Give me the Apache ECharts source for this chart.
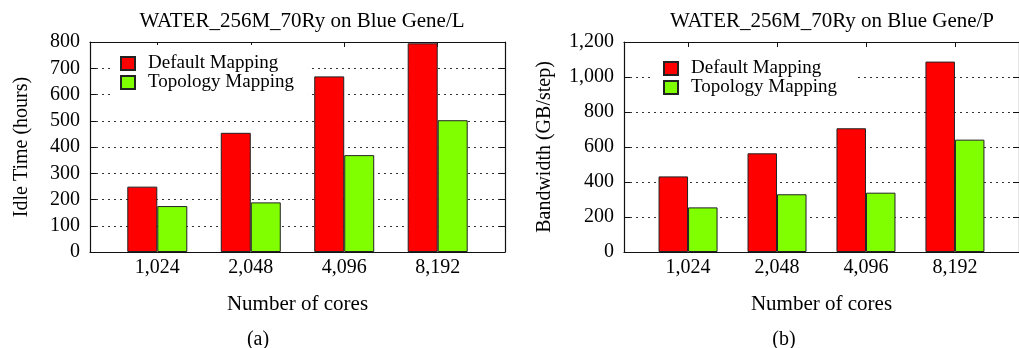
<!DOCTYPE html>
<html>
<head>
<meta charset="utf-8">
<script src="https://cdn.jsdelivr.net/npm/echarts@6/dist/echarts.min.js"></script>
<style>
html,body{margin:0;padding:0;background:#fff;}
#c{width:1019px;height:348px;}
</style>
</head>
<body>
<div id="c"></div>
<script>
// ---- data ----
const categories = ['1,024', '2,048', '4,096', '8,192'];
const seriesNames = ['Default Mapping', 'Topology Mapping'];
// (a) Idle time on Blue Gene/L (hours)
const idleDefault = [249, 454, 669, 795];
const idleTopology = [175, 189, 369, 502];
// (b) Bandwidth on Blue Gene/P (GB/step)
const bwDefault = [432, 564, 707, 1088];
const bwTopology = [255, 330, 339, 642];
const idleTicks = [0, 800, 100];   // min, max, step
const bwTicks = [0, 1200, 200];

const FONT = 'Liberation Serif';
const RED = '#ff0000';
const GREEN = '#7fff00';
const catIdx = categories.map((c, i) => i);
const toPairs = vals => vals.map((v, i) => [i, v]);
const AXLINE = { show: true, onZero: false, lineStyle: { color: '#111', width: 1.2 } };

function xAxes(grid) {
  return [
    { type: 'value', gridIndex: grid, position: 'bottom', min: -0.72, max: 3.72,
      axisLine: AXLINE,
      axisTick: { show: false },
      splitLine: { show: false },
      axisLabel: { customValues: catIdx, formatter: v => categories[Math.round(v)],
        fontFamily: FONT, fontSize: 20, color: '#000', margin: 6 },
      name: 'Number of cores', nameLocation: 'middle', nameGap: 42,
      nameTextStyle: { fontFamily: FONT, fontSize: 21, color: '#000' } },
    { type: 'value', gridIndex: grid, position: 'top', min: -0.72, max: 3.72,
      axisLine: AXLINE,
      axisTick: { show: true, inside: true, length: 5, customValues: catIdx, lineStyle: { color: '#111' } },
      axisLabel: { show: false }, splitLine: { show: false } }
  ];
}

function yAxes(grid, t, name, gap, fmt) {
  return [
    { type: 'value', gridIndex: grid, position: 'left', min: t[0], max: t[1], interval: t[2],
      axisLine: AXLINE,
      axisTick: { show: true, inside: true, length: 6, lineStyle: { color: '#111' } },
      splitLine: { show: true, lineStyle: { color: '#333', type: [2, 4], width: 1 } },
      axisLabel: { fontFamily: FONT, fontSize: 20, color: '#000', margin: 10, formatter: fmt },
      name: name, nameLocation: 'middle', nameGap: gap, nameRotate: 90,
      nameTextStyle: { fontFamily: FONT, fontSize: 20, color: '#000' } },
    { type: 'value', gridIndex: grid, position: 'right', min: t[0], max: t[1], interval: t[2],
      axisLine: AXLINE,
      axisTick: { show: true, inside: true, length: 6, lineStyle: { color: '#111' } },
      splitLine: { show: false }, axisLabel: { show: false } }
  ];
}

function bars(name, data, color, xi, yi, w) {
  return { type: 'bar', name: name, data: toPairs(data), xAxisIndex: xi, yAxisIndex: yi,
    barWidth: w, barGap: '0%',
    itemStyle: { color: color, borderColor: '#222', borderWidth: 1 } };
}

function legend(left, top, pt, pr) {
  return { show: true, orient: 'vertical', left: left, top: top,
    data: seriesNames, backgroundColor: '#fff', borderWidth: 0,
    padding: [pt, pr, 4, 10], itemWidth: 14, itemHeight: 13, itemGap: 0,
    icon: 'rect', selectedMode: false,
    textStyle: { fontFamily: FONT, fontSize: 19, color: '#000', lineHeight: 14, height: 14, padding: [0, 0, 0, 8] } };
}

const commaFmt = v => v.toLocaleString('en-US');

const chart = echarts.init(document.getElementById('c'), null, { renderer: 'canvas' });
chart.setOption({
  animation: false,
  backgroundColor: '#fff',
  title: [
    { text: 'WATER_256M_70Ry on Blue Gene/L', left: 297, top: 6, textAlign: 'center',
      textStyle: { fontFamily: FONT, fontSize: 21, fontWeight: 'normal', color: '#000' } },
    { text: 'WATER_256M_70Ry on Blue Gene/P', left: 827, top: 6, textAlign: 'center',
      textStyle: { fontFamily: FONT, fontSize: 21, fontWeight: 'normal', color: '#000' } },
    { text: '(a)', left: 253, top: 325, textAlign: 'center',
      textStyle: { fontFamily: FONT, fontSize: 20, fontWeight: 'normal', color: '#000' } },
    { text: '(b)', left: 779, top: 325, textAlign: 'center',
      textStyle: { fontFamily: FONT, fontSize: 20, fontWeight: 'normal', color: '#000' } }
  ],
  grid: [
    { left: 90, top: 42, width: 415, height: 210 },
    { left: 624, top: 42, width: 405, height: 210 }
  ],
  legend: [ legend(110, 45, 9, 14), legend(653, 51, 8, 18) ],
  xAxis: [...xAxes(0), ...xAxes(1)],
  yAxis: [...yAxes(0, idleTicks, 'Idle Time (hours)', 58, null),
          ...yAxes(1, bwTicks, 'Bandwidth (GB/step)', 69, commaFmt)],
  series: [
    bars(seriesNames[0], idleDefault, RED, 0, 0, 30),
    bars(seriesNames[1], idleTopology, GREEN, 0, 0, 30),
    bars(seriesNames[0], bwDefault, RED, 2, 2, 29.5),
    bars(seriesNames[1], bwTopology, GREEN, 2, 2, 29.5)
  ]
});
</script>
</body>
</html>
